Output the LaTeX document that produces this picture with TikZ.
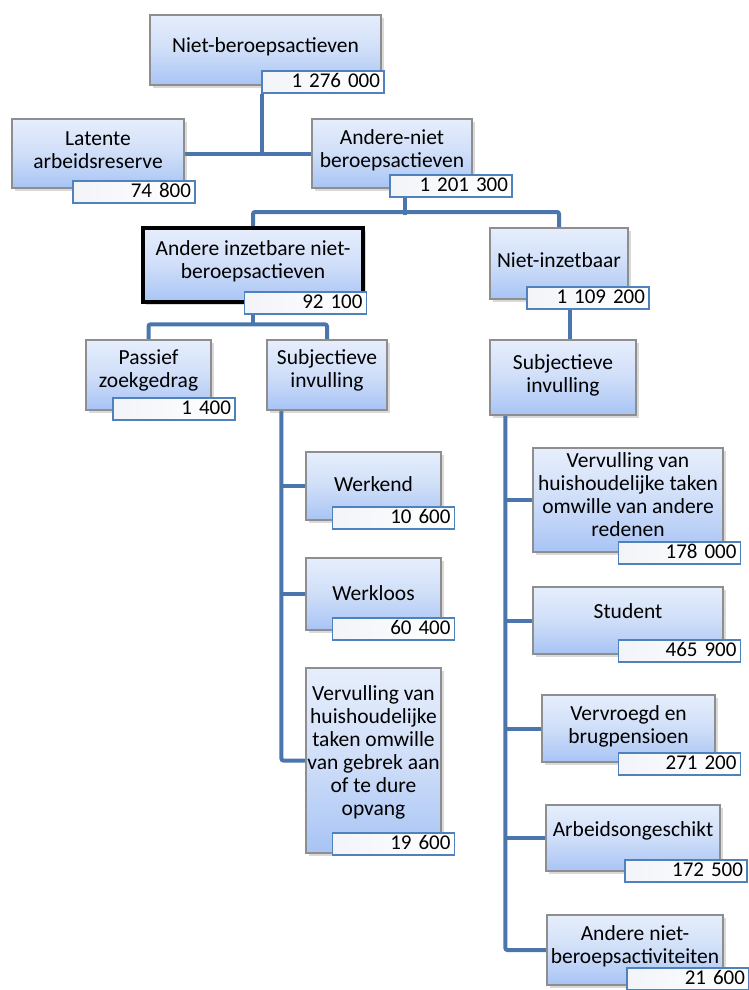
\documentclass[tikz,border=0pt]{standalone}
\usepackage{fontspec}
\setmainfont{Carlito}
\usetikzlibrary{shadows,calc,backgrounds}
\definecolor{conncol}{HTML}{4A76AD}
\definecolor{boxtop}{HTML}{E6EEFC}
\definecolor{boxmid}{HTML}{CFDEF8}
\definecolor{boxbot}{HTML}{A8C4F5}
\definecolor{boxedge}{HTML}{8E8E8E}
\definecolor{numedge}{HTML}{4F81BD}
\definecolor{numleft}{HTML}{F2F4F8}
\tikzset{
 bx/.style={draw=boxedge, line width=1.2pt, top color=boxtop, bottom color=boxbot, middle color=boxmid,
   inner sep=2pt, drop shadow={shadow xshift=3pt, shadow yshift=-3pt, opacity=0.3}},
 bxt/.style={align=center, font=\fontsize{21.5}{23}\selectfont, inner sep=0pt},
 thickbx/.style={bx, draw=black, line width=4pt},
 nb/.style={draw=numedge, line width=1.5pt, left color=numleft, right color=white, minimum width=122pt, minimum height=22pt,
   inner xsep=4pt, inner ysep=0pt, text width=114pt, align=right, text height=14pt, text depth=4pt,
   font=\fontsize{21}{22}\selectfont},
 conn/.style={draw=conncol, line width=4pt, rounded corners=2pt},
}
\begin{document}
\begin{tikzpicture}[x=1pt,y=-1pt]
\useasboundingbox (0,0) rectangle (748,990);
% boxes
\node[bx, minimum width=231pt, minimum height=70pt, label={[name=top-t, bxt, yshift=3pt]center:{Niet-beroepsactieven}}] (top) at (265.5,50) {};
\node[bx, minimum width=172pt, minimum height=69pt, label={[name=lat-t, bxt, yshift=3pt]center:{Latente\\arbeidsreserve}}] (lat) at (98,153.5) {};
\node[bx, minimum width=160pt, minimum height=69pt, label={[name=and-t, bxt, yshift=3pt]center:{Andere-niet\\beroepsactieven}}] (and) at (392,153.5) {};
\node[thickbx, minimum width=220pt, minimum height=74pt, label={[name=ai-t, bxt, yshift=4pt]center:{Andere inzetbare niet-\\beroepsactieven}}] (ai) at (253,265) {};
\node[bx, minimum width=138pt, minimum height=71pt, label={[name=ni-t, bxt, yshift=3pt]center:{Niet-inzetbaar}}] (ni) at (559,263.5) {};
\node[bx, minimum width=125pt, minimum height=70pt, label={[name=pz-t, bxt, yshift=5pt]center:{Passief\\zoekgedrag}}] (pz) at (148.5,375) {};
\node[bx, minimum width=120pt, minimum height=70pt, label={[name=sl-t, bxt, yshift=5pt]center:{Subjectieve\\invulling}}] (sl) at (327,375) {};
\node[bx, minimum width=146pt, minimum height=75pt, label={[name=sr-t, bxt, yshift=2pt]center:{Subjectieve\\invulling}}] (sr) at (563,377.5) {};
\node[bx, minimum width=135pt, minimum height=68pt, label={[name=w1-t, bxt, yshift=2pt]center:{Werkend}}] (w1) at (373.5,486) {};
\node[bx, minimum width=135pt, minimum height=72pt, label={[name=w2-t, bxt, yshift=1pt]center:{Werkloos}}] (w2) at (373.5,594) {};
\node[bx, minimum width=135pt, minimum height=185pt, label={[name=w3-t, bxt, yshift=8pt]center:{Vervulling van\\huishoudelijke\\taken omwille\\van gebrek aan\\of te dure\\opvang}}] (w3) at (373.5,760.5) {};
\node[bx, minimum width=190pt, minimum height=104pt, label={[name=r1-t, bxt, yshift=5pt]center:{Vervulling van\\huishoudelijke taken\\omwille van andere\\redenen}}] (r1) at (628,500) {};
\node[bx, minimum width=190pt, minimum height=67pt, label={[name=r2-t, bxt, yshift=9pt]center:{Student}}] (r2) at (628,620.5) {};
\node[bx, minimum width=173pt, minimum height=67pt, label={[name=r3-t, bxt, yshift=2pt]center:{Vervroegd en\\brugpensioen}}] (r3) at (628.5,728.5) {};
\node[bx, minimum width=174pt, minimum height=66pt, label={[name=r4-t, bxt, yshift=7pt]center:{Arbeidsongeschikt}}] (r4) at (633,838) {};
\node[bx, minimum width=176pt, minimum height=70pt, label={[name=r5-t, bxt, yshift=4pt]center:{Andere niet-\\beroepsactiviteiten}}] (r5) at (635,950) {};
% number boxes
\node[nb] (n1) at (323,82) {1 276 000};
\node[nb] (n2) at (134,192) {74 800};
\node[nb] (n3) at (451,186) {1 201 300};
\node[nb] (n4) at (305.5,303) {92 100};
\node[nb] (n5) at (588,298) {1 109 200};
\node[nb] (n6) at (174,409) {1 400};
\node[nb] (n9) at (393.5,518) {10 600};
\node[nb] (n10) at (393.5,629) {60 400};
\node[nb] (n11) at (393.5,844) {19 600};
\node[nb] (n12) at (679.5,553) {178 000};
\node[nb] (n13) at (679.5,651) {465 900};
\node[nb] (n14) at (679.5,764) {271 200};
\node[nb] (n15) at (686,871) {172 500};
\node[nb] (n16) at (688,979) {21 600};
% connectors
\begin{scope}[on background layer]
\coordinate (c1) at ($(n1.south west)+(1,0)$);
\draw[conn] (c1) -- (c1 |- lat.east);
\draw[conn] (lat.east) -- (and.west);
\coordinate (c3) at ($(n3.south west)+(16,0)$);
\draw[conn] (c3) -- ++(0,17);
\draw[conn] (ai.north) -- ++(0,-14) -| (ni.north);
\draw[conn] (ai.south |- n4.south) -- ++(0,11);
\draw[conn] (pz.north) -- ++(0,-15) -| (sl.north);
\coordinate (c5) at ($(n5.south west)+(44,0)$);
\draw[conn] (c5) -- (c5 |- sr.north);
\coordinate (c7) at ($(sl.south west)+(15,0)$);
\draw[conn] (c7) |- (w3.west);
\draw[conn] (c7 |- w1.west) -- (w1.west);
\draw[conn] (c7 |- w2.west) -- (w2.west);
\coordinate (c8) at ($(sr.south west)+(16,0)$);
\draw[conn] (c8) |- (r5.west);
\draw[conn] (c8 |- r1.west) -- (r1.west);
\draw[conn] (c8 |- r2.west) -- (r2.west);
\draw[conn] (c8 |- r3.west) -- (r3.west);
\draw[conn] (c8 |- r4.west) -- (r4.west);
\end{scope}
\end{tikzpicture}
\end{document}
